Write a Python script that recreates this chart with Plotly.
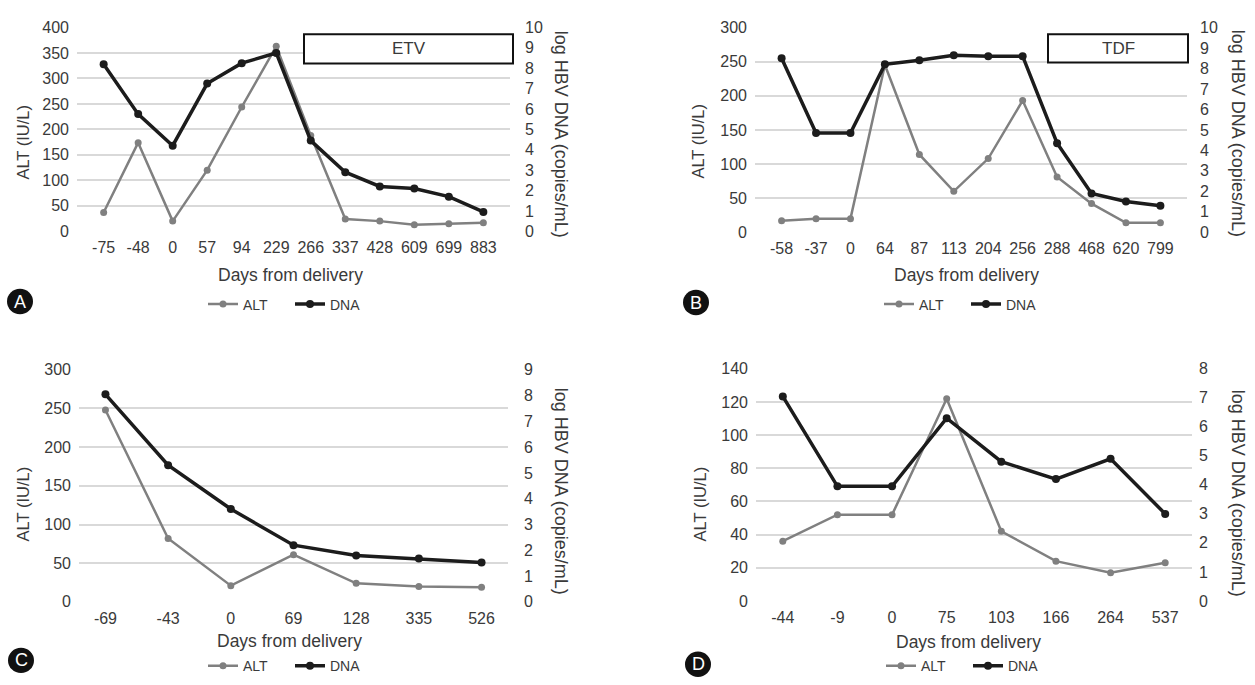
import plotly.graph_objects as go

# ---------------- data ----------------
A_days = ["-75", "-48", "0", "57", "94", "229", "266", "337", "428", "609", "699", "883"]
A_alt = [37, 174, 20, 120, 244, 363, 188, 24, 20, 13, 15, 17]
A_dna = [8.2, 5.75, 4.2, 7.25, 8.25, 8.75, 4.45, 2.9, 2.2, 2.1, 1.7, 0.95]

B_days = ["-58", "-37", "0", "64", "87", "113", "204", "256", "288", "468", "620", "799"]
B_alt = [17, 20, 20, 245, 114, 60, 108, 193, 81, 42, 14, 14]
B_dna = [8.5, 4.85, 4.85, 8.2, 8.4, 8.65, 8.6, 8.6, 4.35, 1.9, 1.5, 1.3]

C_days = ["-69", "-43", "0", "69", "128", "335", "526"]
C_alt = [248, 82, 21, 61, 24, 20, 19]
C_dna = [8.05, 5.3, 3.6, 2.2, 1.8, 1.68, 1.53]

D_days = ["-44", "-9", "0", "75", "103", "166", "264", "537"]
D_alt = [36, 52, 52, 122, 42, 24, 17, 23]
D_dna = [7.05, 3.95, 3.95, 6.3, 4.8, 4.2, 4.9, 3.0]

W, H = 1255, 685
FONT = "Liberation Sans, Arial, sans-serif"
TXT = "#3a3a3a"
ALT_C = "#808080"
DNA_C = "#1c1c1c"


def px(x):
    return x / W


def py(y):
    return 1 - y / H


panels = [
    dict(days=A_days, alt=A_alt, dna=A_dna, x0=77, x1=510, y0=20, y1=229,
         lmax=400, ldt=50, rmax=10, rso=14, leg=(290, 304), xt=(290, 274),
         lt=(23, 137), rt=(561, 129), letter="A", lc=(20, 301), box=("ETV", 304, 513, 27, 57)),
    dict(days=B_days, alt=B_alt, dna=B_dna, x0=755, x1=1187, y0=20, y1=230,
         lmax=300, ldt=50, rmax=10, rso=12, leg=(966, 304), xt=(966, 274),
         lt=(698, 137), rt=(1238, 128), letter="B", lc=(696, 302), box=("TDF", 1048, 1188, 27, 56)),
    dict(days=C_days, alt=C_alt, dna=C_dna, x0=79, x1=508, y0=371, y1=609,
         lmax=300, ldt=50, rmax=9, rso=15, leg=(290, 675), xt=(289, 649),
         lt=(23, 508), rt=(561, 495), letter="C", lc=(21, 669), box=None),
    dict(days=D_days, alt=D_alt, dna=D_dna, x0=756, x1=1192, y0=370, y1=608,
         lmax=140, ldt=20, rmax=8, rso=6, leg=(968, 675), xt=(968, 650),
         lt=(700, 508), rt=(1238, 497), letter="D", lc=(698, 673), box=None),
]

fig = go.Figure()
annotations = []
shapes = []
layout = {}

for i, p in enumerate(panels):
    n = i + 1
    xa = "x" if n == 1 else f"x{n}"
    yl_idx = 2 * n - 1
    yr_idx = 2 * n
    yl = "y" if yl_idx == 1 else f"y{yl_idx}"
    yr = f"y{yr_idx}"
    leg = "legend" if n == 1 else f"legend{n}"

    fig.add_trace(go.Scatter(
        x=p["days"], y=p["alt"], name="ALT", mode="lines+markers",
        line=dict(color=ALT_C, width=2.5), marker=dict(color=ALT_C, size=7),
        xaxis=xa, yaxis=yl, legend=leg))
    fig.add_trace(go.Scatter(
        x=p["days"], y=p["dna"], name="DNA", mode="lines+markers",
        line=dict(color=DNA_C, width=3.5), marker=dict(color=DNA_C, size=8),
        xaxis=xa, yaxis=yr, legend=leg))

    xkey = "xaxis" if n == 1 else f"xaxis{n}"
    ylkey = "yaxis" if yl_idx == 1 else f"yaxis{yl_idx}"
    yrkey = f"yaxis{yr_idx}"
    ydom = [py(p["y1"]), py(p["y0"])]
    layout[xkey] = dict(
        domain=[px(p["x0"]), px(p["x1"])], anchor=yl, type="category",
        showgrid=False, showline=False, zeroline=False, ticks="",
        ticklabelstandoff=5,
        tickfont=dict(family=FONT, size=16, color=TXT))
    layout[ylkey] = dict(
        domain=ydom, anchor=xa, range=[0, p["lmax"]], dtick=p["ldt"], tick0=0,
        showgrid=True, gridcolor="#d9d9d9", gridwidth=2, zeroline=False,
        showline=False, ticks="", ticklabelstandoff=7,
        tickfont=dict(family=FONT, size=16, color=TXT))
    layout[yrkey] = dict(
        domain=ydom, anchor=xa, overlaying=yl, side="right",
        range=[0, p["rmax"]], dtick=1, tick0=0,
        showgrid=False, zeroline=False, showline=False, ticks="",
        ticklabelstandoff=p["rso"],
        tickfont=dict(family=FONT, size=16, color=TXT))
    layout[leg] = dict(
        orientation="h", x=px(p["leg"][0]), y=py(p["leg"][1]),
        xanchor="center", yanchor="middle", xref="paper", yref="paper",
        font=dict(family=FONT, size=14, color=TXT), bgcolor="rgba(0,0,0,0)",
        itemwidth=30, entrywidth=42, entrywidthmode="pixels")

    annotations.append(dict(
        text="Days from delivery", x=px(p["xt"][0]), y=py(p["xt"][1]),
        xref="paper", yref="paper", showarrow=False, xanchor="center", yanchor="middle",
        font=dict(family=FONT, size=17.5, color=TXT)))
    annotations.append(dict(
        text="ALT (IU/L)", x=px(p["lt"][0]), y=py(p["lt"][1]),
        xref="paper", yref="paper", showarrow=False, textangle=-90,
        xanchor="center", yanchor="middle",
        font=dict(family=FONT, size=16.5, color=TXT)))
    annotations.append(dict(
        text="log HBV DNA (copies/mL)", x=px(p["rt"][0]), y=py(p["rt"][1]),
        xref="paper", yref="paper", showarrow=False, textangle=90,
        xanchor="center", yanchor="middle",
        font=dict(family=FONT, size=18, color=TXT)))

    cx, cy = p["lc"]
    r = 13
    shapes.append(dict(type="circle", xref="paper", yref="paper",
                       x0=px(cx - r), x1=px(cx + r), y0=py(cy + r), y1=py(cy - r),
                       fillcolor="#111111", line=dict(width=0)))
    annotations.append(dict(
        text=p["letter"], x=px(cx), y=py(cy), xref="paper", yref="paper",
        showarrow=False, xanchor="center", yanchor="middle",
        font=dict(family=FONT, size=18, color="white")))

    if p["box"]:
        t, bx0, bx1, by0, by1 = p["box"]
        shapes.append(dict(type="rect", xref="paper", yref="paper",
                           x0=px(bx0), x1=px(bx1), y0=py(by1), y1=py(by0),
                           line=dict(color="#111111", width=2), fillcolor="white"))
        annotations.append(dict(
            text=t, x=px((bx0 + bx1) / 2), y=py((by0 + by1) / 2),
            xref="paper", yref="paper", showarrow=False,
            xanchor="center", yanchor="middle",
            font=dict(family=FONT, size=17, color=TXT)))

fig.update_layout(
    width=W, height=H, margin=dict(l=0, r=0, t=0, b=0),
    paper_bgcolor="white", plot_bgcolor="white",
    showlegend=True, annotations=annotations, shapes=shapes,
    **layout)

fig.write_html(
    "out.html",
    config={"displayModeBar": False},
    post_script="document.body.style.margin='0';document.body.style.overflow='hidden';")
